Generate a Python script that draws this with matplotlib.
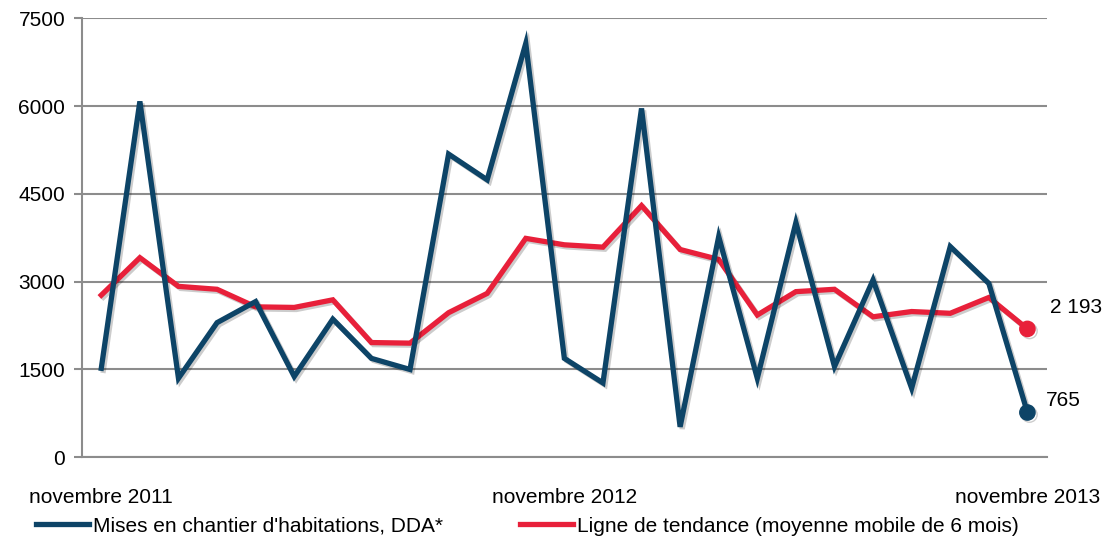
import matplotlib
matplotlib.use("Agg")
import matplotlib.pyplot as plt
import matplotlib.patheffects as pe
from matplotlib.lines import Line2D

plt.rcParams['font.family'] = ['Liberation Sans', 'DejaVu Sans']

# monthly data, nov 2011 -> nov 2013
mises_en_chantier = [1520, 6080, 1350, 2300, 2660, 1380, 2360, 1690, 1500, 5180,
                     4740, 7070, 1690, 1270, 5960, 520, 3770, 1350, 4010, 1550,
                     3030, 1180, 3600, 2970, 765]
tendance = [2770, 3410, 2920, 2870, 2570, 2560, 2690, 1960, 1950, 2470,
            2800, 3740, 3630, 3590, 4300, 3550, 3380, 2430, 2830, 2870,
            2400, 2490, 2460, 2730, 2193]
x_ticks = [0, 12, 24]
x_labels = ['novembre 2011', 'novembre 2012', 'novembre 2013']
y_ticks = [0, 1500, 3000, 4500, 6000, 7500]

blue = '#0d4467'
red = '#e8203a'
grid_col = '#8c8c8c'
fs = 15

fig = plt.figure(figsize=(11.14, 5.44), dpi=100)
ax = fig.add_axes([0.0736, 0.1594, 0.866, 0.807])

x = list(range(len(mises_en_chantier)))
shadow = [pe.SimpleLineShadow(offset=(1.5, -1.5), shadow_color='#000000', alpha=0.2), pe.Normal()]

ax.plot(x, tendance, color=red, lw=3.8, solid_joinstyle='miter', zorder=3, path_effects=shadow)
ax.plot(x, mises_en_chantier, color=blue, lw=3.8, solid_joinstyle='miter', zorder=4, path_effects=shadow)
ax.plot(x[-1], tendance[-1], 'o', color=red, ms=11, zorder=5, path_effects=shadow)
ax.plot(x[-1], mises_en_chantier[-1], 'o', color=blue, ms=11, zorder=5, path_effects=shadow)

ax.annotate('2 193', (x[-1], tendance[-1]), xytext=(16.5, 15.5), textcoords='offset points',
            fontsize=fs, va='center', ha='left', annotation_clip=False)
ax.annotate('765', (x[-1], mises_en_chantier[-1]), xytext=(13.5, 8.3), textcoords='offset points',
            fontsize=fs, va='center', ha='left', annotation_clip=False)

ax.set_xlim(-0.5, len(x) - 0.5)
ax.set_ylim(0, 7500)
ax.set_yticks(y_ticks)
ax.set_yticklabels([str(v) for v in y_ticks], fontsize=fs)
ax.set_xticks(x_ticks)
ax.set_xticklabels(x_labels, fontsize=fs)
ax.tick_params(axis='x', length=0, pad=22)
ax.tick_params(axis='y', length=6, width=1.5, color=grid_col, pad=6)

ax.grid(axis='y', color=grid_col, lw=1.5)
ax.set_axisbelow(True)
for s in ['top', 'right']:
    ax.spines[s].set_visible(False)
ax.spines['left'].set_color(grid_col)
ax.spines['left'].set_linewidth(1.5)
ax.spines['bottom'].set_color(grid_col)
ax.spines['bottom'].set_linewidth(1.5)

handles = [Line2D([], [], color=blue, lw=3.8), Line2D([], [], color=red, lw=3.8)]
fig.legend(handles, ["Mises en chantier d'habitations, DDA*",
                     'Ligne de tendance (moyenne mobile de 6 mois)'],
           loc='center left', bbox_to_anchor=(0.032, 0.033), ncol=2, frameon=False,
           fontsize=fs, handlelength=2.55, handletextpad=0.2, columnspacing=3.7,
           borderpad=0, borderaxespad=0)

fig.savefig('out.png', dpi=100)
